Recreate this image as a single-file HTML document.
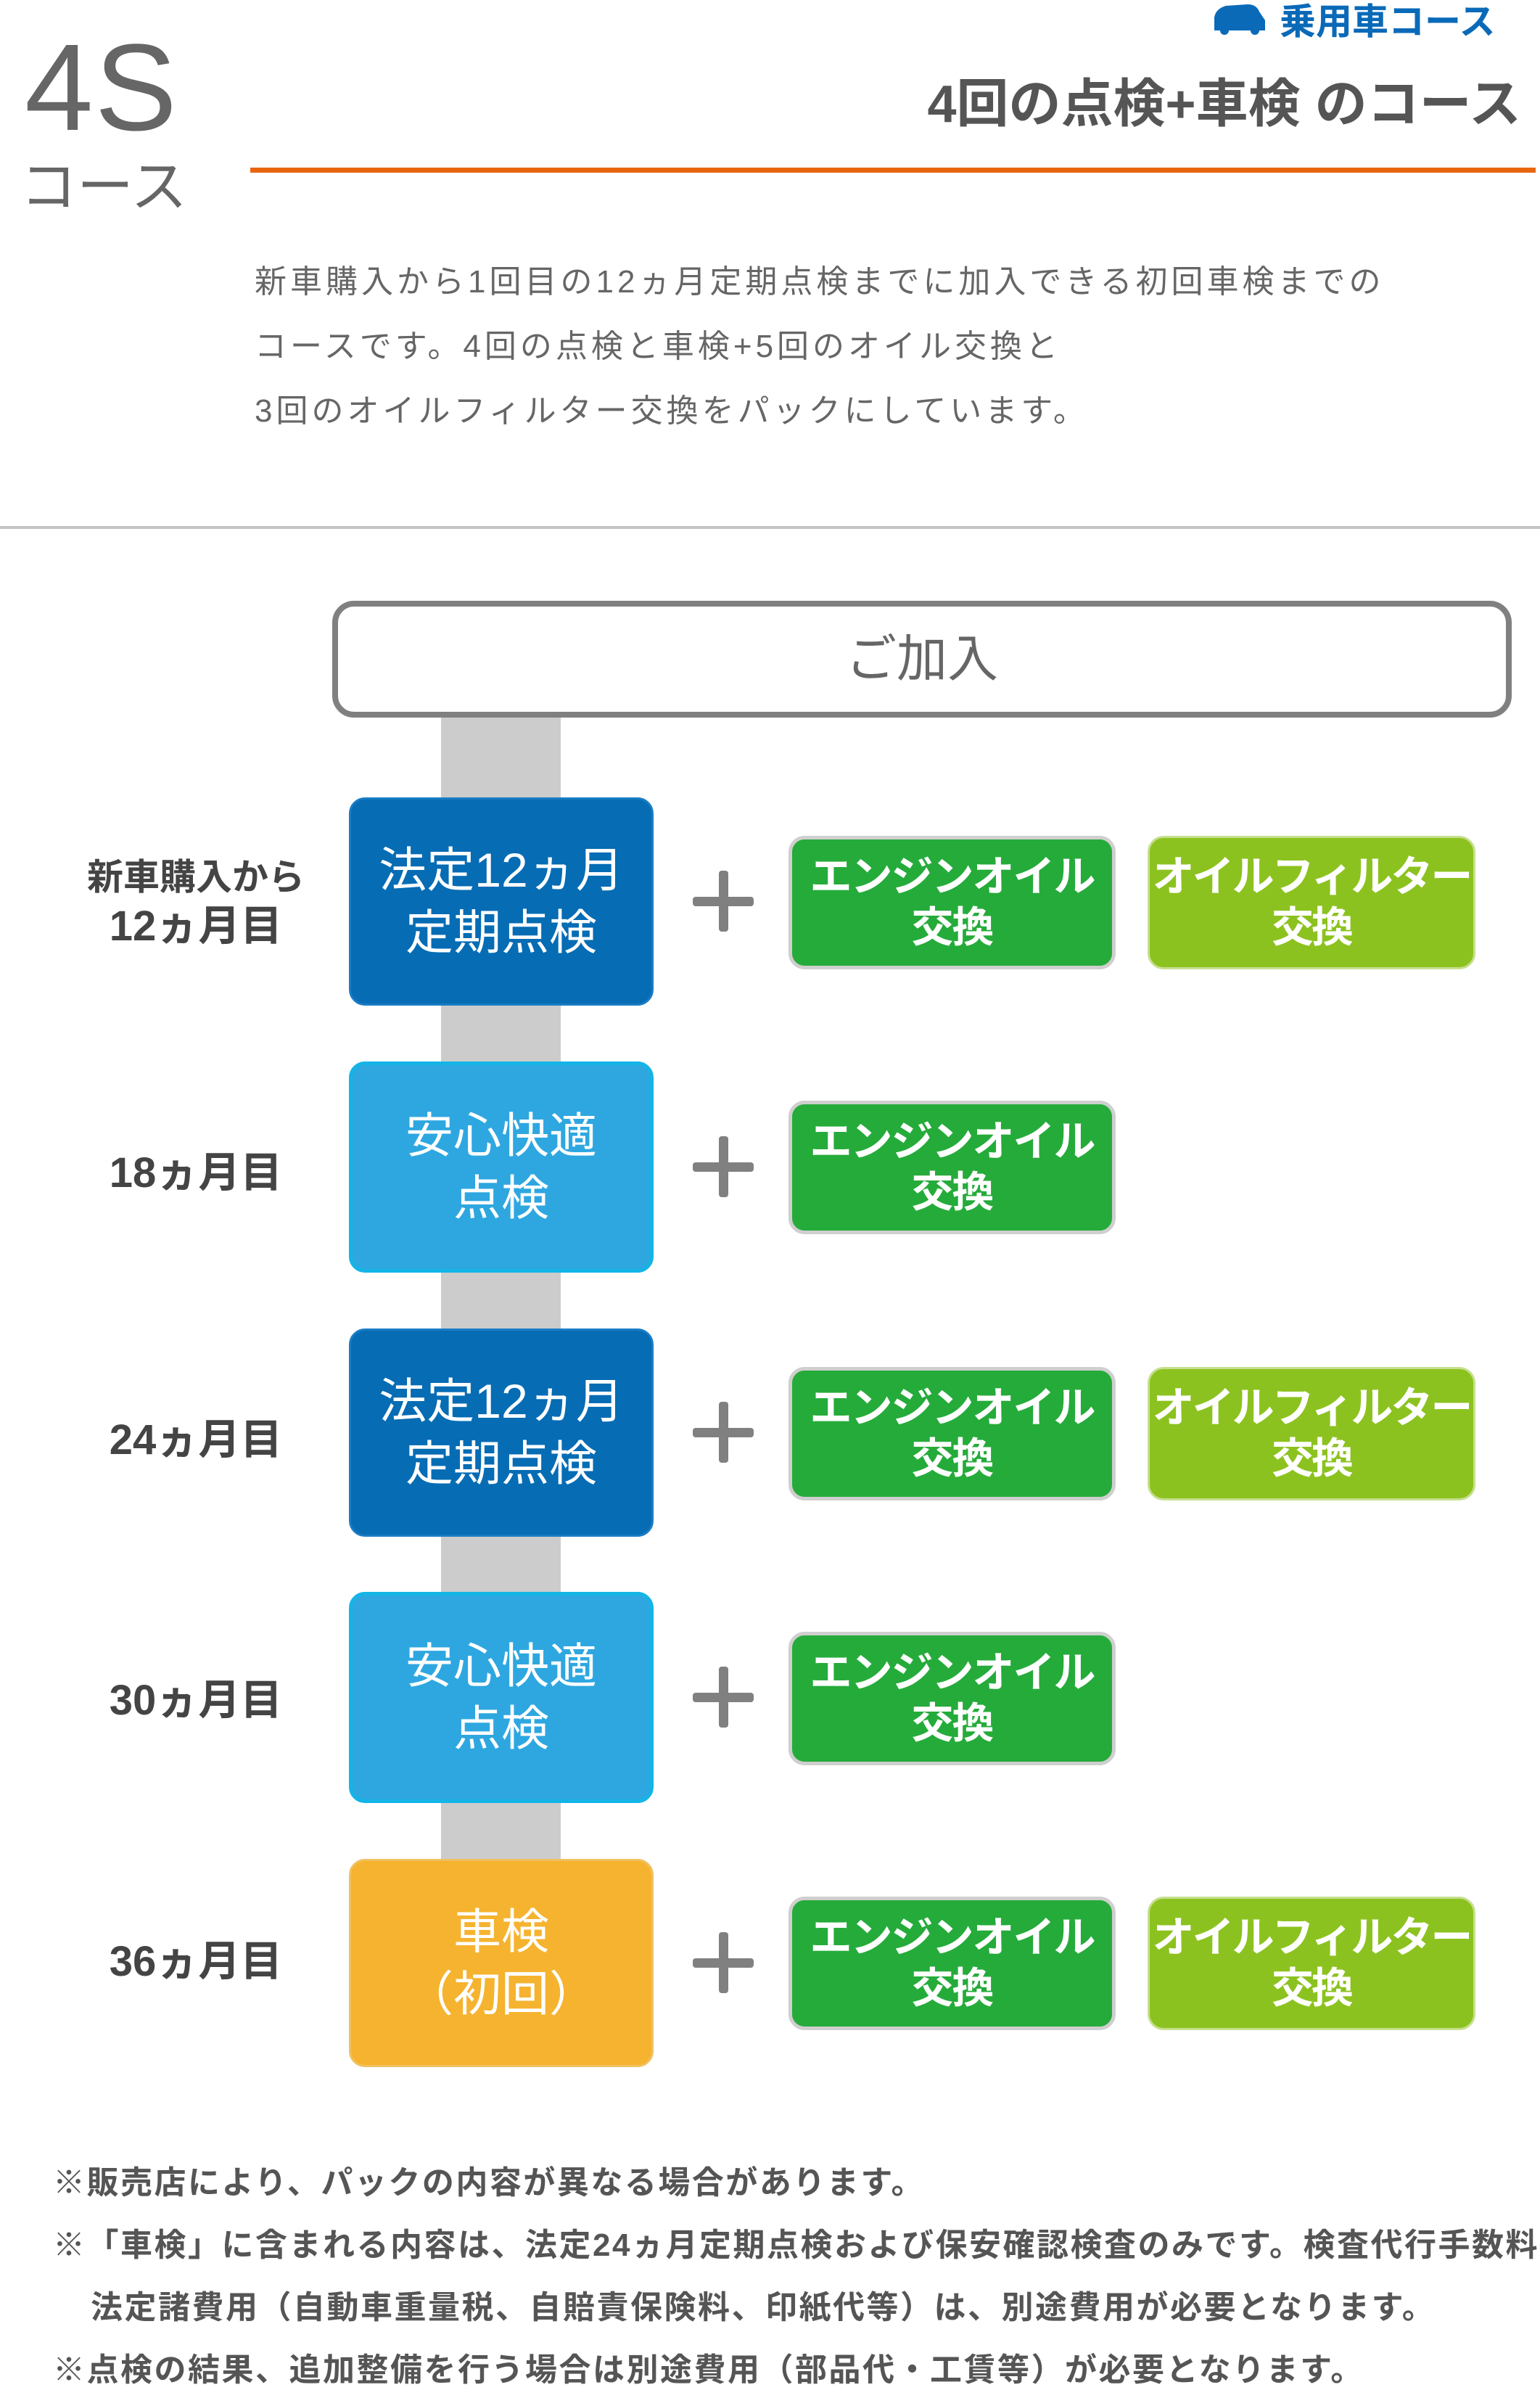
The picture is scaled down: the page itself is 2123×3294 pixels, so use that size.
<!DOCTYPE html>
<html><head><meta charset="utf-8">
<style>
html,body{margin:0;padding:0;}
body{width:2123px;height:3252px;position:relative;overflow:hidden;background:#fff;font-family:"Liberation Sans","Noto Sans CJK JP",sans-serif;}
.a{position:absolute;white-space:nowrap;}
.box{position:absolute;display:flex;align-items:center;justify-content:center;text-align:center;color:#fff;box-sizing:border-box;line-height:1.3;white-space:nowrap;}
.L{left:481px;width:420px;border-radius:22px;font-size:66px;}
.dk{background:#066cb4;border:3px solid #1a7cc4;}
.lt{background:#2ea7e0;border:5px solid #14b4e6;}
.or{background:#f5b32f;border:3px solid #f0c060;}
.g{left:1087px;width:451px;height:184px;border-radius:22px;background:#25ab3a;border:5px solid #cfcfcf;font-size:58px;letter-spacing:-2px;font-weight:bold;line-height:1.2;}
.y{left:1582px;width:452px;height:184px;border-radius:22px;background:#8cc21f;border:3px solid #c6df8e;font-size:58px;letter-spacing:-3px;font-weight:bold;line-height:1.2;}
.plus{position:absolute;left:955px;width:84px;height:84px;}
.plus:before{content:"";position:absolute;left:0;top:36px;width:84px;height:13px;background:#808080;border-radius:4px;}
.plus:after{content:"";position:absolute;left:36px;top:0;width:13px;height:84px;background:#808080;border-radius:4px;}
.lab{position:absolute;left:100px;width:340px;text-align:center;color:#444;font-weight:bold;font-size:58px;line-height:1.2;}
.note{position:absolute;left:73px;color:#555;font-weight:bold;font-size:44px;white-space:nowrap;letter-spacing:2.5px;}
</style></head><body>

<svg class="a" style="left:1670px;top:2px" width="78" height="46" viewBox="0 0 78 46"><path d="M4 40 L4 22 Q6 10 20 6 L50 4 Q62 4 66 14 L74 26 L74 40 Z" fill="#0a6ab8"/><circle cx="18" cy="40" r="6" fill="#0a6ab8"/><circle cx="60" cy="40" r="6" fill="#0a6ab8"/></svg>
<div class="a" style="left:1764px;top:-10px;font-size:50px;color:#0a6ab8;font-weight:bold;">乗用車コース</div>

<div class="a" style="left:34px;top:36px;font-size:170px;color:#666;font-weight:300;letter-spacing:2px;line-height:1;">4S</div>
<div class="a" style="left:28px;top:218px;font-size:78px;color:#666;line-height:1;">コース</div>

<div class="a" style="right:26px;top:108px;font-size:72px;color:#555;font-weight:bold;line-height:1;">4回の点検+車検 のコース</div>
<div class="a" style="left:345px;top:231px;width:1772px;height:7px;background:#e8660f;"></div>

<div class="a" style="left:351px;top:344px;font-size:44px;color:#666;line-height:89px;letter-spacing:5px;">新車購入から1回目の12ヵ月定期点検までに加入できる初回車検までの<br>コースです。4回の点検と車検+5回のオイル交換と<br>3回のオイルフィルター交換をパックにしています。</div>

<div class="a" style="left:0;top:725px;width:2123px;height:4px;background:#c4c4c4;"></div>

<div class="a" style="left:608px;top:985px;width:165px;height:1585px;background:#cccccc;"></div>
<div class="box" style="left:458px;top:828px;width:1626px;height:161px;border:8px solid #808080;border-radius:30px;background:#fff;color:#666;font-size:70px;">ご加入</div>

<!-- row1 -->
<div class="lab" style="top:1172px;"><span style="font-size:50px">新車購入から</span><br>12ヵ月目</div>
<div class="box L dk" style="top:1099px;height:287px;">法定12ヵ月<br>定期点検</div>
<div class="plus" style="top:1200px;"></div>
<div class="box g" style="top:1152px;">エンジンオイル<br>交換</div>
<div class="box y" style="top:1152px;">オイルフィルター<br>交換</div>

<!-- row2 -->
<div class="lab" style="top:1582px;">18ヵ月目</div>
<div class="box L lt" style="top:1463px;height:291px;">安心快適<br>点検</div>
<div class="plus" style="top:1566px;"></div>
<div class="box g" style="top:1517px;">エンジンオイル<br>交換</div>

<!-- row3 -->
<div class="lab" style="top:1950px;">24ヵ月目</div>
<div class="box L dk" style="top:1831px;height:287px;">法定12ヵ月<br>定期点検</div>
<div class="plus" style="top:1932px;"></div>
<div class="box g" style="top:1884px;">エンジンオイル<br>交換</div>
<div class="box y" style="top:1884px;">オイルフィルター<br>交換</div>

<!-- row4 -->
<div class="lab" style="top:2309px;">30ヵ月目</div>
<div class="box L lt" style="top:2194px;height:291px;">安心快適<br>点検</div>
<div class="plus" style="top:2297px;"></div>
<div class="box g" style="top:2249px;">エンジンオイル<br>交換</div>

<!-- row5 -->
<div class="lab" style="top:2669px;">36ヵ月目</div>
<div class="box L or" style="top:2562px;height:287px;">車検<br>（初回）</div>
<div class="plus" style="top:2663px;"></div>
<div class="box g" style="top:2614px;">エンジンオイル<br>交換</div>
<div class="box y" style="top:2614px;">オイルフィルター<br>交換</div>

<div class="note" style="top:2972px;">※販売店により、パックの内容が異なる場合があります。</div>
<div class="note" style="top:3058px;">※「車検」に含まれる内容は、法定24ヵ月定期点検および保安確認検査のみです。検査代行手数料、</div>
<div class="note" style="top:3144px;left:125px;">法定諸費用（自動車重量税、自賠責保険料、印紙代等）は、別途費用が必要となります。</div>
<div class="note" style="top:3230px;">※点検の結果、追加整備を行う場合は別途費用（部品代・工賃等）が必要となります。</div>
</body></html>
